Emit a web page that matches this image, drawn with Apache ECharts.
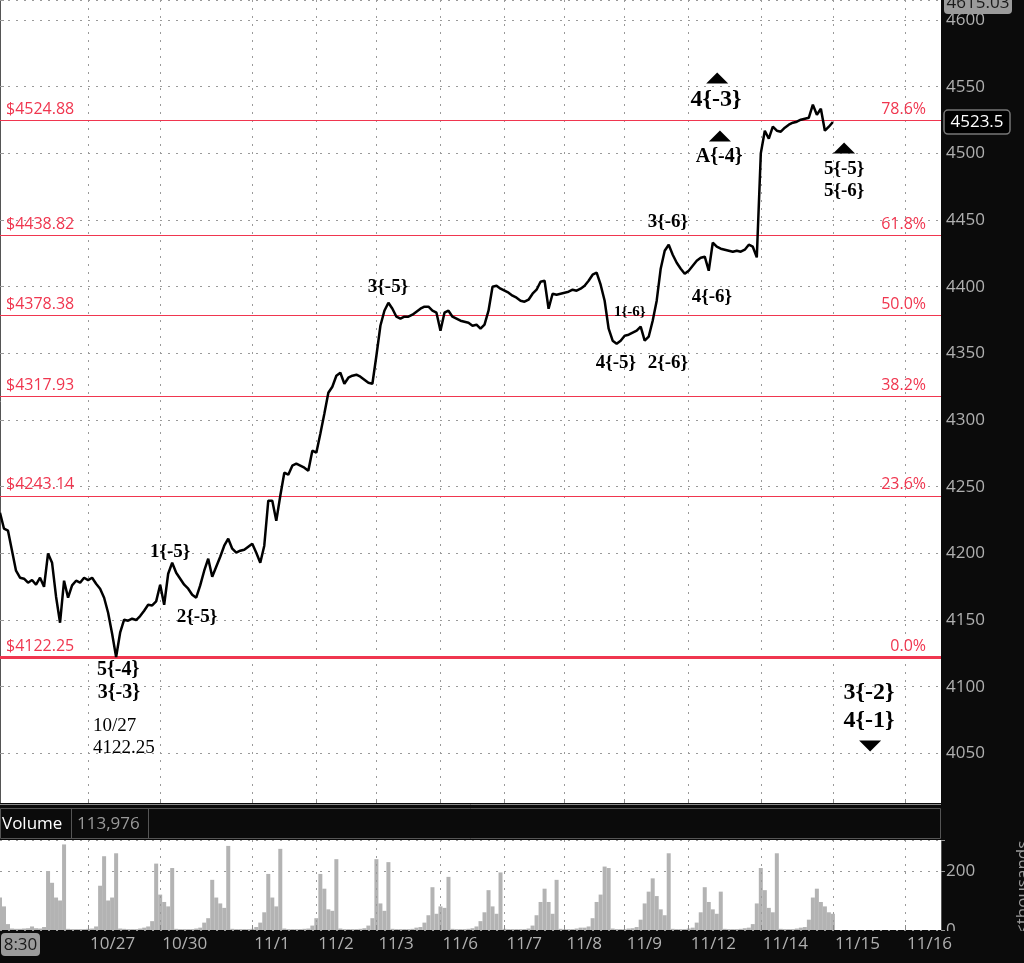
<!DOCTYPE html>
<html><head><meta charset="utf-8">
<script src="https://cdn.jsdelivr.net/npm/echarts@6/dist/echarts.min.js"></script>
<style>html,body{margin:0;padding:0;background:#0b0b0b}#c{width:1024px;height:963px}</style>
</head><body><div id="c"></div>
<script>
// ---- data ----
const prices = [
4230.5, 4218.5, 4217, 4202, 4187, 4181.75, 4181, 4178, 4180, 4176.5,
4181.75, 4175, 4200, 4193, 4167.5, 4148, 4179.5, 4166.75, 4176, 4179.5,
4178, 4181.75, 4180, 4181.75, 4177.25, 4173.5, 4166.75, 4155.5, 4139.75, 4122.25,
4140.5, 4150.25, 4149.5, 4151, 4150, 4153, 4157, 4161.5, 4161, 4164,
4176.5, 4161.5, 4184.75, 4193, 4185.5, 4181, 4176.5, 4173.5, 4169, 4166.75,
4176, 4187, 4196, 4182.5, 4190, 4197.5, 4205.75, 4211, 4203.5, 4200.5,
4202, 4202.75, 4205, 4207.25, 4200.5, 4193, 4205.75, 4239.5, 4239.5, 4224.5,
4243.25, 4260.5, 4259, 4265.75, 4267.25, 4265.75, 4264.25, 4262, 4277, 4275.5,
4289.75, 4304.75, 4320.5, 4325, 4333.25, 4335.5, 4327.25, 4331.75, 4333.25, 4334,
4332.5, 4330.25, 4328, 4327.25, 4348.25, 4370.75, 4382, 4388, 4383.5, 4377.5,
4376, 4377.5, 4377.5, 4379, 4381.25, 4383.5, 4385, 4385, 4382, 4380.5,
4367, 4380.5, 4382, 4377.5, 4376, 4374.5, 4373.75, 4373, 4370.75, 4371.5,
4368.5, 4371.5, 4382, 4400, 4400.75, 4398.5, 4397, 4395.5, 4393.25, 4391.75,
4389.5, 4388.75, 4390.25, 4394.75, 4397.75, 4403.75, 4404.5, 4383.5, 4394.75, 4394,
4394.75, 4395.5, 4396.25, 4397.75, 4397, 4398.5, 4400.75, 4404.5, 4409, 4410.5,
4401.5, 4389.5, 4368.5, 4359.5, 4357.25, 4359.5, 4363.25, 4364, 4365.5, 4367,
4370, 4359.5, 4362.5, 4374.5, 4389.5, 4413.5, 4427, 4431.5, 4424, 4418,
4413.5, 4409.75, 4412, 4415.75, 4419.5, 4421.75, 4422.5, 4412, 4433, 4430,
4428.5, 4427.75, 4427, 4426.25, 4427, 4426.25, 4427.75, 4431.5, 4430, 4422,
4500, 4517, 4511, 4520, 4517, 4516.25, 4519.25, 4521.5, 4523, 4523.75,
4525.25, 4526, 4526.75, 4536.5, 4529, 4533.5, 4517, 4520, 4523.5
];
const volumes = [
110, 80, 20, 5, 4, 4, 5, 6, 12, 6,
5, 10, 200, 160, 110, 100, 290, 4, 3, 3,
3, 3, 4, 5, 12, 150, 250, 100, 110, 260,
5, 4, 3, 3, 3, 5, 8, 12, 30, 225,
120, 95, 80, 210, 4, 3, 3, 3, 3, 5,
8, 25, 40, 170, 110, 90, 75, 285, 4, 3,
3, 3, 3, 4, 10, 25, 60, 190, 110, 80,
275, 5, 3, 3, 3, 3, 4, 5, 15, 40,
190, 140, 70, 65, 240, 5, 3, 3, 3, 3,
4, 6, 15, 40, 240, 90, 65, 230, 4, 3,
3, 3, 3, 4, 8, 10, 25, 50, 145, 55,
80, 75, 180, 4, 3, 3, 3, 4, 6, 12,
30, 60, 135, 80, 55, 195, 4, 3, 3, 3,
3, 3, 5, 15, 50, 95, 140, 95, 55, 170,
4, 3, 3, 3, 5, 8, 8, 12, 40, 95,
120, 215, 210, 5, 3, 3, 3, 5, 6, 10,
35, 90, 130, 175, 115, 70, 50, 260, 4, 3,
3, 3, 5, 8, 25, 60, 145, 95, 70, 55,
130, 4, 3, 3, 3, 4, 6, 8, 20, 90,
210, 135, 75, 60, 260, 4, 3, 3, 3, 5,
8, 10, 35, 110, 140, 95, 80, 60, 55
];
const SLOT_COUNT = 236;
const tickIndex = [22, 40, 63, 79, 94, 110, 126, 141, 156, 172, 190, 208, 226];
const tickLabels = ['10/27','10/30','11/1','11/2','11/3','11/6','11/7','11/8','11/9','11/12','11/14','11/15','11/16'];
const fibLevels = [4524.88, 4438.82, 4378.38, 4317.93, 4243.14, 4122.25];
const fibPercents = ['78.6%','61.8%','50.0%','38.2%','23.6%','0.0%'];
const waveLabels = [
  [42.5, 4201, '1{-5}'], [49.2, 4152.25, '2{-5}'], [96.9, 4399.75, '3{-5}'],
  [153.8, 4342.75, '4{-5}'], [166.8, 4342.75, '2{-6}'], [166.8, 4448.5, '3{-6}'],
  [177.8, 4392.25, '4{-6}'], [210.8, 4488.25, '5{-5}'], [210.8, 4471.75, '5{-6}']
];
const mediumWaveLabels = [[29.5, 4112.5, '5{-4}'], [29.7, 4095.25, '3{-3}'], [179.6, 4497.25, 'A{-4}']];
const bigWaveLabels = [[178.8, 4540, '4{-3}'], [217, 4095.25, '3{-2}'], [217, 4074.25, '4{-1}']];
const smallWaveLabels = [[157.3, 4381, '1{-6}']];
const lowNote = [[23.2, 4070.5, '10/27'], [23.2, 4054, '4122.25']];
const upMarks = [[179.1, 4556.5], [179.8, 4513], [210.8, 4504]];
const downMarks = [[217.3, 4055.5]];
const lastPrice = 4523.5;
const axisTop = 4615.03;
const axisBottom = 4012.8;
const lastVolumeText = '113,976';

// ---- chart ----
const chart = echarts.init(document.getElementById('c'), null, {renderer: 'canvas'});
const cats = Array.from({length: SLOT_COUNT}, (_, i) => {
  const k = tickIndex.indexOf(i); return k >= 0 ? tickLabels[k] : '';
});
const isTick = (i) => tickIndex.indexOf(i) >= 0;
const RED = '#f0364f';
const GRID_GRAY = '#9a9a9a';
const LABEL_GRAY = '#b0b0b0';
const UI_FONT = 'Open Sans';

const fibMarks = [];
fibLevels.forEach((v, k) => {
  const w = k === fibLevels.length - 1 ? 3 : 1.2;
  fibMarks.push({yAxis: v, lineStyle: {color: RED, width: w, type: 'solid'},
    label: {show: true, position: 'insideStartTop', distance: [6, 3], formatter: '$' + v.toFixed(2),
      color: RED, fontSize: 16, fontFamily: UI_FONT}});
  fibMarks.push({yAxis: v, lineStyle: {color: RED, width: w, type: 'solid'},
    label: {show: true, position: 'insideEndTop', distance: [15, 3], formatter: fibPercents[k],
      color: RED, fontSize: 16, fontFamily: UI_FONT}});
});

function labelSeries(arr, size, weight, pos) {
  return {
    type: 'scatter', xAxisIndex: 2, yAxisIndex: 0, symbolSize: 0, silent: true, z: 20,
    itemStyle: {opacity: 1},
    data: arr.map(a => ({value: [a[0], a[1]], name: a[2]})),
    label: {show: true, position: pos || 'inside', distance: 0, formatter: p => p.name,
      color: '#000', opacity: 1, fontSize: size, fontWeight: weight, fontFamily: 'Liberation Serif'}
  };
}

const option = {
  backgroundColor: '#0b0b0b',
  animation: false,
  grid: [
    {left: 0, top: 0, width: 941, height: 803, show: true, backgroundColor: '#ffffff', borderWidth: 0},
    {left: 0, top: 840, width: 941, height: 90, show: true, backgroundColor: '#ffffff', borderWidth: 0}
  ],
  xAxis: [
    {type: 'category', gridIndex: 0, data: cats, boundaryGap: false,
      axisLine: {show: true, lineStyle: {color: '#8a8a8a'}},
      axisTick: {show: true, inside: true, length: 4, interval: (i) => isTick(i), lineStyle: {color: '#8a8a8a'}},
      axisLabel: {show: false},
      splitLine: {show: true, interval: (i) => isTick(i), lineStyle: {color: GRID_GRAY, type: [2, 6], width: 1}}},
    {type: 'category', gridIndex: 1, data: cats, boundaryGap: false, z: 10,
      axisLine: {show: false},
      axisTick: {show: true, inside: true, length: 5, interval: (i) => isTick(i), lineStyle: {color: '#8a8a8a'}},
      axisLabel: {show: true, interval: (i) => isTick(i), align: 'left', color: LABEL_GRAY, fontSize: 17,
        fontFamily: UI_FONT, margin: 6, padding: [0, 0, 0, 2]},
      splitLine: {show: true, interval: (i) => isTick(i), lineStyle: {color: GRID_GRAY, type: [2, 6], width: 1}}},
    {type: 'value', gridIndex: 0, min: 0, max: SLOT_COUNT - 1, show: false}
  ],
  yAxis: [
    {type: 'value', gridIndex: 0, position: 'right', min: axisBottom, max: axisTop,
      minInterval: 50, maxInterval: 50, splitNumber: 12,
      axisLine: {show: true, lineStyle: {color: '#555', width: 1}},
      axisTick: {show: true, length: 4, lineStyle: {color: '#999'}},
      axisLabel: {color: LABEL_GRAY, fontSize: 17, fontFamily: UI_FONT, margin: 5,
        formatter: v => Math.abs(v / 50 - Math.round(v / 50)) < 1e-6 ? String(Math.round(v)) : ''},
      splitLine: {show: true, lineStyle: {color: GRID_GRAY, type: [2, 6], width: 1}}},
    {type: 'value', gridIndex: 1, position: 'right', min: 0, max: 305, interval: 200, z: 0,
      axisLine: {show: true, lineStyle: {color: '#555', width: 1}},
      axisTick: {show: true, length: 4, lineStyle: {color: '#999'}},
      axisLabel: {color: LABEL_GRAY, fontSize: 17, fontFamily: UI_FONT, margin: 5,
        formatter: v => (v % 200 === 0 ? String(v) : '')},
      splitLine: {show: true, lineStyle: {color: GRID_GRAY, type: [2, 6], width: 1}}}
  ],
  series: [
    {type: 'line', xAxisIndex: 0, yAxisIndex: 0, data: prices, showSymbol: false, symbol: 'none',
      lineStyle: {color: '#000', width: 2.5}, z: 5,
      markLine: {silent: true, symbol: ['none', 'none'], animation: false, data: fibMarks}},
    {type: 'bar', xAxisIndex: 1, yAxisIndex: 1, data: volumes, barWidth: 4,
      itemStyle: {color: '#b3b3b3'}},
    labelSeries(waveLabels, 19, 'bold'),
    labelSeries(mediumWaveLabels, 20, 'bold'),
    labelSeries(bigWaveLabels, 24, 'bold'),
    labelSeries(smallWaveLabels, 15, 'bold'),
    labelSeries(lowNote, 19, 'normal', 'right'),
    {type: 'scatter', xAxisIndex: 2, yAxisIndex: 0, symbol: 'triangle', symbolSize: [22, 11],
      itemStyle: {color: '#000', opacity: 1}, silent: true, data: upMarks, z: 20},
    {type: 'scatter', xAxisIndex: 2, yAxisIndex: 0, symbol: 'triangle', symbolSize: [22, 11], symbolRotate: 180,
      itemStyle: {color: '#000', opacity: 1}, silent: true, data: downMarks, z: 20}
  ]
};
chart.setOption(option);

const yLast = chart.convertToPixel({yAxisIndex: 0}, lastPrice);
const yTop = chart.convertToPixel({yAxisIndex: 0}, axisTop);
chart.setOption({
  graphic: [
    {type: 'text', x: 1015, y: 934, rotation: Math.PI / 2, z: 1,
      style: {text: '<thousands>', fill: '#9a9a9a', font: '17px "Open Sans"', align: 'left', verticalAlign: 'top'}},
    {type: 'rect', z: 5, shape: {x: 941, y: 931, width: 83, height: 32}, style: {fill: '#0b0b0b'}},
    {type: 'rect', z: 5, shape: {x: 0, y: 803, width: 1024, height: 37}, style: {fill: '#0b0b0b'}},
    {type: 'line', z: 6, shape: {x1: 0, y1: 804.5, x2: 941, y2: 804.5}, style: {stroke: '#8a8a8a', lineWidth: 1}},
    {type: 'rect', z: 6, shape: {x: 0.5, y: 808.5, width: 940, height: 30}, style: {fill: '#0b0b0b', stroke: '#555', lineWidth: 1}},
    {type: 'line', z: 7, shape: {x1: 71.5, y1: 809, x2: 71.5, y2: 838}, style: {stroke: '#555', lineWidth: 1}},
    {type: 'line', z: 7, shape: {x1: 148.5, y1: 809, x2: 148.5, y2: 838}, style: {stroke: '#555', lineWidth: 1}},
    {type: 'text', z: 7, x: 2, y: 824, style: {text: 'Volume', fill: '#ffffff', font: '17px "Open Sans"', verticalAlign: 'middle'}},
    {type: 'text', z: 7, x: 77, y: 824, style: {text: lastVolumeText, fill: '#9a9a9a', font: '17px "Open Sans"', verticalAlign: 'middle'}},
    {type: 'rect', z: 12, shape: {x: 1, y: 933, width: 39, height: 23, r: 4}, style: {fill: '#9b9b9b'}},
    {type: 'text', z: 13, x: 20.5, y: 945, style: {text: '8:30', fill: '#1a1a1a', font: '17px "Open Sans"', align: 'center', verticalAlign: 'middle'}},
    {type: 'rect', z: 12, shape: {x: 944, y: yTop + 3 - 11, width: 68, height: 22, r: 4}, style: {fill: '#9b9b9b'}},
    {type: 'text', z: 13, x: 978, y: yTop + 3, style: {text: axisTop.toFixed(2), fill: '#1a1a1a', font: '17px "Open Sans"', align: 'center', verticalAlign: 'middle'}},
    {type: 'rect', z: 12, shape: {x: 944, y: yLast - 12, width: 66, height: 24, r: 4}, style: {fill: '#000', stroke: '#777', lineWidth: 1.5}},
    {type: 'text', z: 13, x: 977, y: yLast, style: {text: String(lastPrice), fill: '#ffffff', font: '17px "Open Sans"', align: 'center', verticalAlign: 'middle'}}
  ]
});
</script>
</body></html>
